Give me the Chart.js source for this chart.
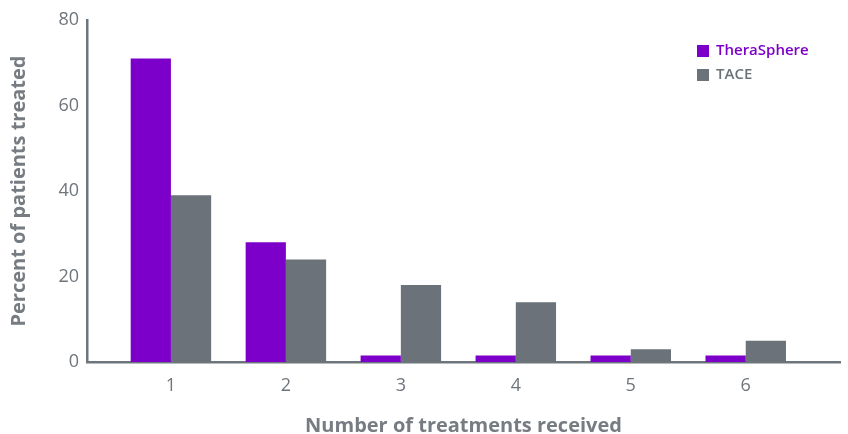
<!DOCTYPE html>
<html>
<head>
<meta charset="utf-8">
<script src="https://cdn.jsdelivr.net/npm/chart.js@4/dist/chart.umd.min.js"></script>
<style>
  html, body { margin: 0; padding: 0; background: #ffffff; }
  #wrap { width: 848px; height: 434px; }
</style>
</head>
<body>
<div id="wrap"><canvas id="c" width="848" height="434"></canvas></div>
<script>
// Number of treatments received (x) and percent of patients per arm (y)
const treatments = [1, 2, 3, 4, 5, 6];
const theraSphere = [71, 28, 1.5, 1.5, 1.5, 1.5];
const tace = [39, 24, 18, 14, 3, 5];
const yTicks = [0, 20, 40, 60, 80];

const PURPLE = '#7c00c9';
const GREY = '#6b727a';
const AXIS = '#6e767d';
const TEXT = '#6f757b';
const FONT = "'Open Sans', 'Noto Sans', sans-serif";

const toPoints = vals => treatments.map((t, i) => ({ x: t, y: vals[i] }));

// Legend drawn in the upper right of the plot, text tinted like each series
const cornerLegend = {
  id: 'cornerLegend',
  afterDraw(chart) {
    const ctx = chart.ctx;
    const x0 = 697, y0 = 45, rowH = 24, box = 12;
    ctx.save();
    ctx.font = "600 15px " + FONT;
    ctx.textBaseline = 'middle';
    chart.data.datasets.forEach((ds, i) => {
      const y = y0 + i * rowH;
      ctx.fillStyle = ds.backgroundColor;
      ctx.fillRect(x0, y, box, box);
      ctx.fillText(ds.label, x0 + 19, y + box / 2);
    });
    ctx.restore();
  }
};

new Chart(document.getElementById('c'), {
  type: 'bar',
  data: {
    datasets: [
      { label: 'TheraSphere', data: toPoints(theraSphere), backgroundColor: PURPLE },
      { label: 'TACE', data: toPoints(tace), backgroundColor: GREY }
    ]
  },
  options: {
    responsive: false,
    animation: false,
    layout: { padding: { left: 0, right: 8, top: 20, bottom: 0 } },
    datasets: { bar: { categoryPercentage: 0.7, barPercentage: 1.0 } },
    plugins: {
      legend: { display: false },
      tooltip: { enabled: false }
    },
    scales: {
      x: {
        type: 'linear',
        offset: false,
        min: 0.27,
        max: 6.82,
        afterBuildTicks(scale) { scale.ticks = treatments.map(v => ({ value: v })); },
        afterFit(scale) { scale.height = 72; },
        grid: { display: false, drawTicks: false },
        border: { display: true, color: AXIS, width: 2.5 },
        ticks: { color: TEXT, font: { family: FONT, size: 18 }, padding: 13, autoSkip: false, maxRotation: 0 },
        title: {
          display: true,
          text: 'Number of treatments received',
          color: '#767c82',
          font: { family: FONT, size: 20, weight: 'bold' },
          padding: { top: 0, bottom: -4 }
        }
      },
      y: {
        min: 0,
        max: 80,
        afterBuildTicks(scale) { scale.ticks = yTicks.map(v => ({ value: v })); },
        afterFit(scale) { scale.width = 87; },
        grid: { display: false, drawTicks: false },
        border: { display: true, color: AXIS, width: 2.5 },
        ticks: { color: TEXT, font: { family: FONT, size: 18 }, padding: 8 },
        title: {
          display: true,
          text: 'Percent of patients treated',
          color: '#767c82',
          font: { family: FONT, size: 20, weight: 'bold' },
          padding: { top: 7, bottom: 0 }
        }
      }
    }
  },
  plugins: [cornerLegend]
});
</script>
</body>
</html>
